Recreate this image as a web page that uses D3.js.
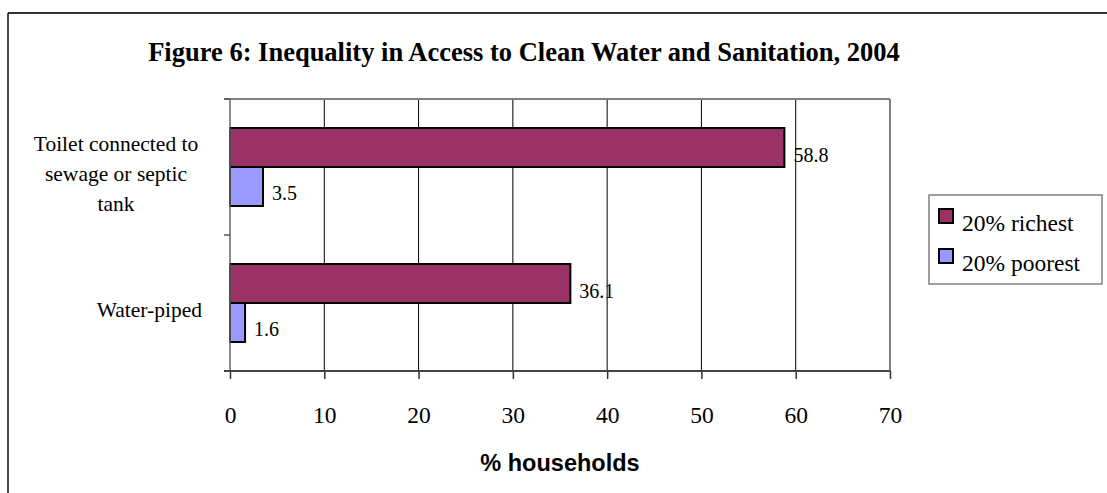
<!DOCTYPE html>
<html>
<head>
<meta charset="utf-8">
<script src="https://cdn.jsdelivr.net/npm/d3@7"></script>
<style>
  html, body { margin: 0; padding: 0; background: #fff; }
  svg { display: block; }
  text { font-family: "Liberation Serif", "Times New Roman", serif; fill: #000; }
</style>
</head>
<body>
<svg id="chart" width="1107" height="493"></svg>
<script>
// Household access shares by wealth quintile
const categories = ["Toilet connected to sewage or septic tank", "Water-piped"];
const categoryLines = [["Toilet connected to", "sewage or septic", "tank"], ["Water-piped"]];
const series = ["20% richest", "20% poorest"];
const richest = [58.8, 36.1];
const poorest = [3.5, 1.6];
const xTicks = [0, 10, 20, 30, 40, 50, 60, 70];
const colors = ["#993366", "#9999FF"];

const svg = d3.select("#chart");

// outer chart frame
svg.append("line").attr("x1", 8).attr("x2", 1107).attr("y1", 13).attr("y2", 13)
  .attr("stroke", "#333").attr("stroke-width", 2);
svg.append("line").attr("x1", 8).attr("x2", 8).attr("y1", 13).attr("y2", 493)
  .attr("stroke", "#111").attr("stroke-width", 1.5);

const plot = { left: 230, right: 890, top: 99, bottom: 371 };

const x = d3.scaleLinear().domain([0, 70]).range([plot.left, plot.right]);
const y0 = d3.scaleBand().domain(categories).range([plot.top, plot.bottom]).padding(0);
const y1 = d3.scaleBand().domain(series).range([0, y0.bandwidth()])
  .paddingInner(0).paddingOuter(0.744);

// title
svg.append("text")
  .attr("x", 524).attr("y", 61)
  .attr("text-anchor", "middle")
  .style("font-weight", "bold").style("font-size", "26.5px")
  .text("Figure 6: Inequality in Access to Clean Water and Sanitation, 2004");

// vertical gridlines
svg.append("g").selectAll("line")
  .data(xTicks.filter(t => t > 0 && t < 70))
  .join("line")
  .attr("x1", d => x(d)).attr("x2", d => x(d))
  .attr("y1", plot.top).attr("y2", plot.bottom)
  .attr("stroke", "#000").attr("stroke-width", 1);

// plot area border (top and right)
svg.append("line").attr("x1", plot.left - 6).attr("x2", plot.right)
  .attr("y1", plot.top).attr("y2", plot.top)
  .attr("stroke", "#808080").attr("stroke-width", 2);
svg.append("line").attr("x1", plot.right).attr("x2", plot.right)
  .attr("y1", plot.top).attr("y2", plot.bottom)
  .attr("stroke", "#808080").attr("stroke-width", 2);

// bars
const rows = categories.map((c, i) => ({ cat: c, vals: [richest[i], poorest[i]] }));
const groups = svg.append("g").selectAll("g")
  .data(rows).join("g")
  .attr("transform", d => `translate(0,${y0(d.cat)})`);

groups.selectAll("rect")
  .data(d => d.vals.map((v, j) => ({ s: series[j], v, j })))
  .join("rect")
  .attr("x", x(0))
  .attr("y", d => y1(d.s))
  .attr("width", d => x(d.v) - x(0))
  .attr("height", y1.bandwidth())
  .attr("fill", d => colors[d.j])
  .attr("stroke", "#000").attr("stroke-width", 2);

groups.selectAll("text.val")
  .data(d => d.vals.map((v, j) => ({ s: series[j], v, j })))
  .join("text")
  .attr("class", "val")
  .attr("x", d => x(d.v) + 9)
  .attr("y", d => y1(d.s) + y1.bandwidth() / 2 + 14)
  .style("font-size", "20px")
  .text(d => d3.format(".1f")(d.v));

// category axis (left)
svg.append("line").attr("x1", plot.left).attr("x2", plot.left)
  .attr("y1", plot.top).attr("y2", plot.bottom)
  .attr("stroke", "#666").attr("stroke-width", 1.5);
const catTicks = [plot.top, ...categories.map(c => y0(c) + y0.bandwidth())];
svg.append("g").selectAll("line")
  .data(catTicks).join("line")
  .attr("x1", plot.left - 6).attr("x2", plot.left)
  .attr("y1", d => d).attr("y2", d => d)
  .attr("stroke", "#555").attr("stroke-width", 1.5);

// category labels
const catLabel = svg.append("g");
categoryLines.forEach((lines, i) => {
  const cy = y0(categories[i]) + y0.bandwidth() / 2;
  const lh = 30;
  const multi = lines.length > 1;
  const t = catLabel.append("text")
    .attr("text-anchor", multi ? "middle" : "end")
    .style("font-size", "21.5px");
  lines.forEach((ln, k) => {
    t.append("tspan")
      .attr("x", multi ? 116 : 202)
      .attr("y", cy + (k - (lines.length - 1) / 2) * lh + 14)
      .text(ln);
  });
});

// value axis (bottom)
const xAxis = d3.axisBottom(x).tickValues(xTicks).tickSize(8).tickPadding(27)
  .tickFormat(d3.format("d"));
const gx = svg.append("g").attr("transform", `translate(0,${plot.bottom})`).call(xAxis);
gx.select(".domain").remove();
gx.append("line").attr("x1", plot.left - 6).attr("x2", plot.right)
  .attr("y1", 0).attr("y2", 0).attr("stroke", "#444").attr("stroke-width", 2);
gx.selectAll(".tick line").attr("stroke", "#333").attr("stroke-width", 1.5);
gx.selectAll(".tick text")
  .style("font-family", "'Liberation Serif', 'Times New Roman', serif")
  .style("font-size", "23.5px").attr("fill", "#000");

// axis title
svg.append("text")
  .attr("x", (plot.left + plot.right) / 2).attr("y", 471)
  .attr("text-anchor", "middle")
  .style("font-family", "'Liberation Sans', Arial, sans-serif")
  .style("font-weight", "bold").style("font-size", "23.5px")
  .text("% households");

// legend
const legend = svg.append("g").attr("transform", "translate(929,195)");
legend.append("rect").attr("width", 173).attr("height", 89)
  .attr("fill", "#fff").attr("stroke", "#808080").attr("stroke-width", 1.5);
series.forEach((s, i) => {
  const row = legend.append("g").attr("transform", `translate(10,${14 + i * 40})`);
  row.append("rect").attr("width", 14).attr("height", 14)
    .attr("fill", colors[i]).attr("stroke", "#000").attr("stroke-width", 2);
  row.append("text").attr("x", 23).attr("y", 22)
    .style("font-size", "23.5px").text(s);
});
</script>
</body>
</html>
